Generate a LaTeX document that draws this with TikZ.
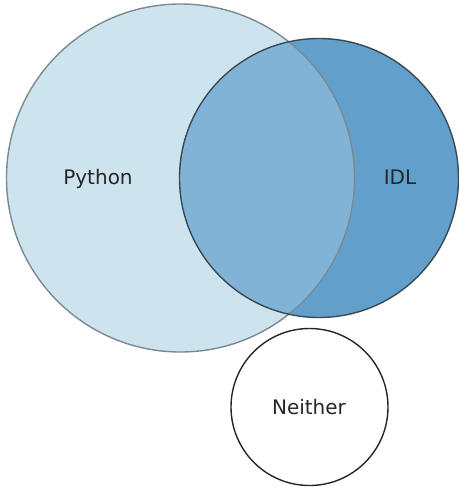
\documentclass[tikz,border=0pt]{standalone}
\usepackage{fontspec}
\setmainfont{DejaVu Sans}
\definecolor{pyfill}{HTML}{CDE4EF}
\definecolor{idlfill}{HTML}{62A0CB}
\definecolor{bothfill}{HTML}{80B3D6}
\definecolor{pyedge}{HTML}{7A8A92}
\definecolor{idledge}{HTML}{3A4A55}
\begin{document}
\begin{tikzpicture}[x=1pt,y=-1pt,
  lbl/.style={font=\fontsize{20}{24}\selectfont, text=black!85, inner sep=0pt, anchor=base},
  ring/.style={line width=1.4pt}]
\useasboundingbox (0,0) rectangle (458,487);
% fills
\fill[pyfill] (180.5,178) circle[radius=174];
\fill[idlfill] (319,178) circle[radius=139.5];
\begin{scope}
  \clip (180.5,178) circle[radius=174];
  \fill[bothfill] (319,178) circle[radius=139.5];
\end{scope}
% outlines
\draw[ring, pyedge] (180.5,178) circle[radius=174];
\draw[ring, idledge] (319,178) circle[radius=139.5];
\draw[ring, black!85] (309.5,407) circle[radius=78.5];
% labels
\node[lbl] (python) at (98,184) {Python};
\node[lbl] (idl) at (400,184) {IDL};
\node[lbl] (neither) at (309,414) {Neither};
\end{tikzpicture}
\end{document}
